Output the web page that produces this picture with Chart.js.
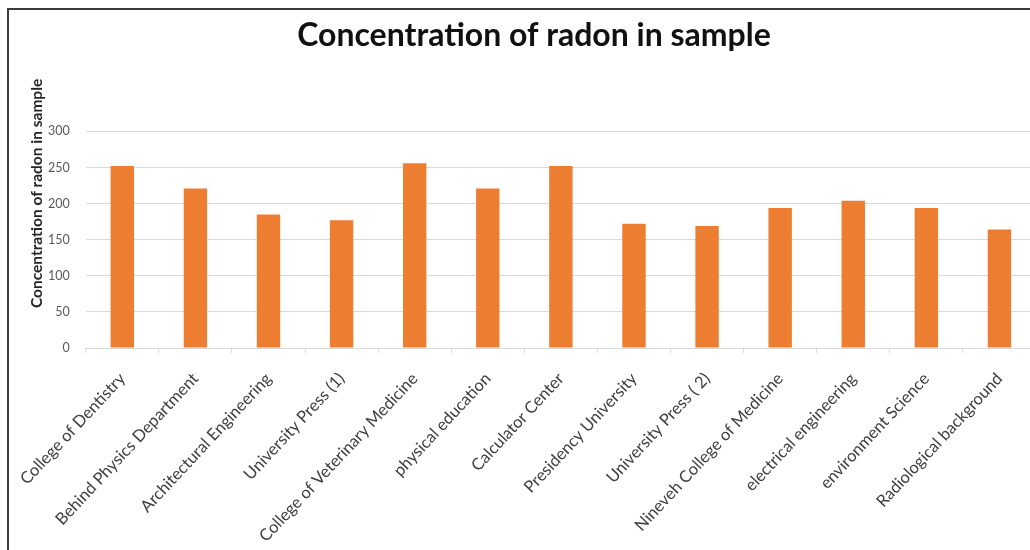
<!DOCTYPE html>
<html>
<head>
<meta charset="utf-8">
<script src="https://cdn.jsdelivr.net/npm/chart.js@4"></script>
<style>
  html, body { margin: 0; padding: 0; background: #fff; }
  #wrap { position: relative; width: 1030px; height: 550px; overflow: hidden; }
  #frame { position: absolute; left: 7px; top: 8px; width: 1100px; height: 600px;
           border-left: 2px solid #3c3c3c; border-top: 2px solid #3c3c3c; pointer-events: none; }
  #box { position: absolute; left: 0; top: 0; width: 1040px; height: 550px; }
</style>
</head>
<body>
<div id="wrap">
  <div id="box"><canvas id="chart"></canvas></div>
  <div id="frame"></div>
</div>
<script>
// Данные
const sites = [
  "College of Dentistry", "Behind Physics Department", "Architectural Engineering",
  "University Press (1)", "College of Veterinary Medicine", "physical education",
  "Calculator Center", "Presidency University", "University Press ( 2)",
  "Nineveh College of Medicine", "electrical engineering", "environment Science",
  "Radiological background"
];
const radon = [252, 221, 185, 177, 256, 221, 252, 172, 169, 194, 204, 194, 164];
const yTicks = [0, 50, 100, 150, 200, 250, 300];
const chartTitle = "Concentration of radon in sample";
const yTitle = "Concentration of radon in sample";

const FONT = "Lato, 'Open Sans', sans-serif";

// подпись оси Y рисуем сами, она сдвинута вверх относительно оси
const yTitlePlugin = {
  id: "yTitle",
  afterDraw(chart) {
    const ctx = chart.ctx;
    const area = chart.chartArea;
    ctx.save();
    ctx.translate(37, area.top + 62);
    ctx.rotate(-Math.PI / 2);
    ctx.font = "bold 15.5px " + FONT;
    ctx.fillStyle = "#262626";
    ctx.textAlign = "center";
    ctx.textBaseline = "middle";
    ctx.fillText(yTitle, 0, 0);
    ctx.restore();
  },
};

new Chart(document.getElementById("chart"), {
  type: "bar",
  data: {
    labels: sites,
    datasets: [{
      label: yTitle,
      data: radon,
      backgroundColor: "#ED7D31",
      borderWidth: 0,
      barPercentage: 0.32,
      categoryPercentage: 1,
    }],
  },
  options: {
    responsive: true,
    maintainAspectRatio: false,
    animation: false,
    layout: { padding: { left: 32, right: 4, top: 0, bottom: 0 } },
    plugins: {
      legend: { display: false },
      tooltip: { enabled: false },
      title: {
        display: true,
        text: chartTitle,
        color: "#111",
        font: { family: FONT, size: 32, weight: "bold" },
        padding: { top: 16, bottom: 77 },
      },
    },
    scales: {
      x: {
        afterFit(scale) {
          scale.height = 202;
        },
        grid: { drawOnChartArea: false, drawTicks: true, tickLength: 5, color: "#d9d9d9" },
        border: { color: "#d9d9d9" },
        ticks: {
          color: "#404040",
          font: { family: FONT, size: 16.5 },
          minRotation: 47,
          maxRotation: 47,
          autoSkip: false,
          padding: 16,
        },
      },
      y: {
        min: 0,
        max: 300,
        afterBuildTicks(scale) {
          scale.ticks = yTicks.map((v) => ({ value: v }));
        },
        grid: { color: "#d9d9d9", drawTicks: false },
        border: { display: false },
        ticks: {
          color: "#595959",
          font: { family: FONT, size: 12.5 },
          padding: 16,
        },
      },
    },
  },
  plugins: [yTitlePlugin],
});
</script>
</body>
</html>
